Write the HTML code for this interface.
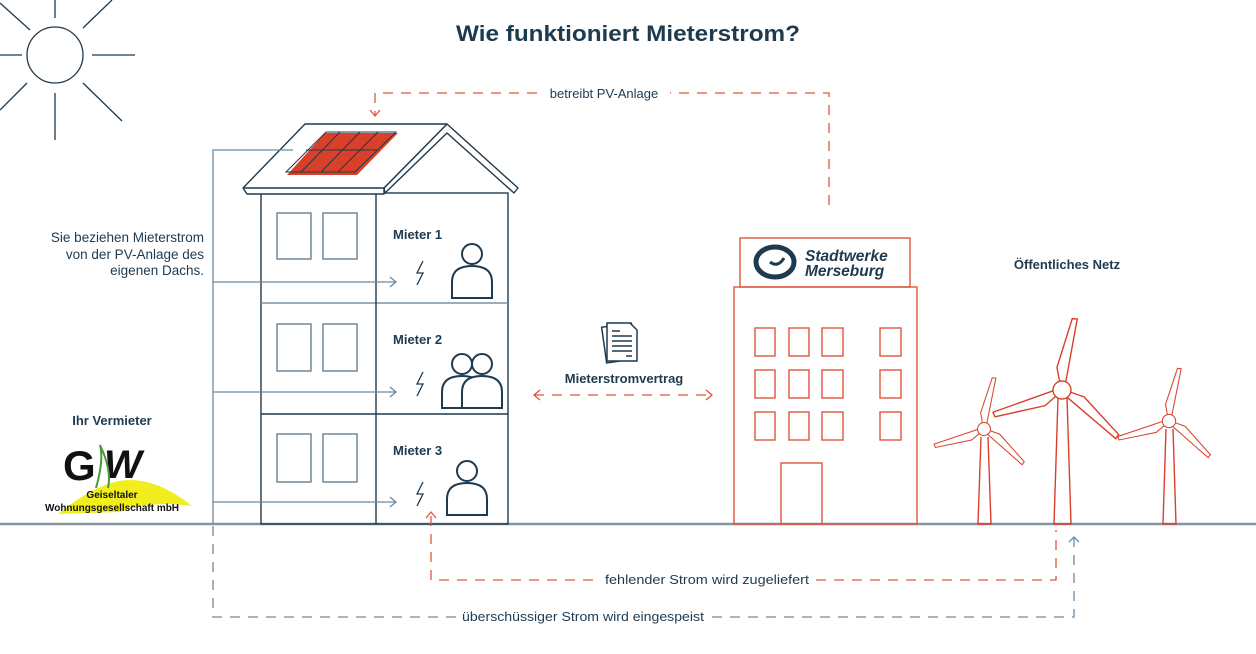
<!DOCTYPE html>
<html><head><meta charset="utf-8"><style>
html,body{margin:0;padding:0;background:#fff;}
svg{display:block;}
text{font-family:"Liberation Sans",sans-serif;}
</style></head><body>
<svg width="1256" height="654" viewBox="0 0 1256 654" xmlns="http://www.w3.org/2000/svg">
<defs>
<g id="person" fill="none" stroke="#1e3a4f" stroke-width="2">
<circle cx="0" cy="-34" r="10"/>
<path d="M-20,10 L-20,-6 Q-20,-22 0,-22 Q20,-22 20,-6 L20,10 Z"/>
</g>
<g id="personf" fill="#fff" stroke="#1e3a4f" stroke-width="2">
<circle cx="0" cy="-34" r="10"/>
<path d="M-20,10 L-20,-6 Q-20,-22 0,-22 Q20,-22 20,-6 L20,10 Z"/>
</g>
<path id="bolt" d="M3,-12 L-3,0 L3,0 L-3,12" fill="none" stroke="#1e3a4f" stroke-width="1.3"/>
<g id="blades" fill="#fff" stroke="#d9402a" stroke-width="1.4">
<path d="M-3,-8 L-7,-22 L4,-72 L9,-72 L3,-8"/>
<path d="M-3,-8 L-7,-22 L4,-72 L9,-72 L3,-8" transform="rotate(120)"/>
<path d="M-3,-8 L-7,-22 L4,-72 L9,-72 L3,-8" transform="rotate(240)"/>
<circle r="9"/>
</g>
</defs>

<!-- title -->
<text x="628" y="41" text-anchor="middle" font-size="22" font-weight="bold" fill="#1e3a4f" textLength="344" lengthAdjust="spacingAndGlyphs">Wie funktioniert Mieterstrom?</text>

<!-- sun -->
<g stroke="#1e3a4f" stroke-width="1.3" fill="none">
<circle cx="55" cy="55" r="28"/>
<line x1="55" y1="0" x2="55" y2="18"/><line x1="55" y1="93" x2="55" y2="140"/>
<line x1="0" y1="55" x2="22" y2="55"/><line x1="92" y1="55" x2="135" y2="55"/>
<line x1="83" y1="28" x2="112" y2="0"/><line x1="83" y1="83" x2="122" y2="121"/>
<line x1="27" y1="83" x2="0" y2="110"/><line x1="30" y1="30" x2="0" y2="3"/>
</g>

<!-- ground -->
<line x1="0" y1="524" x2="1256" y2="524" stroke="#8596a3" stroke-width="2.5"/>

<!-- left building -->
<g stroke="#1e3a4f" stroke-width="1.4" fill="none">
<rect x="261" y="193" width="247" height="331"/>
<line x1="261" y1="303" x2="508" y2="303" stroke="#7a8fa0"/>
<line x1="261" y1="414" x2="508" y2="414"/>
<line x1="376" y1="193" x2="376" y2="524"/>
</g>
<g stroke="#6a7f90" stroke-width="1.4" fill="none">
<rect x="277" y="213" width="34" height="46"/><rect x="323" y="213" width="34" height="46"/>
<rect x="277" y="324" width="34" height="47"/><rect x="323" y="324" width="34" height="47"/>
<rect x="277" y="434" width="34" height="48"/><rect x="323" y="434" width="34" height="48"/>
</g>
<!-- roof -->
<g stroke="#1e3a4f" stroke-width="1.4" fill="#fff" stroke-linejoin="round">
<polygon points="447,124 518,188 514,193 447,133 385,193 384,188"/>
<polygon points="243,188 305,124 447,124 384,188 384,194 247,194"/>
<line x1="243" y1="188" x2="384" y2="188"/>
</g>
<polygon points="325,133 398,133 357,175 287,175" fill="#d9402a"/>
<g stroke="#1e3a4f" stroke-width="1" fill="none">
<polygon points="326,132 396,132 355,172 286,172"/>
<line x1="306" y1="150" x2="377" y2="150"/>
<line x1="340" y1="132" x2="301" y2="172"/>
<line x1="360" y1="132" x2="321" y2="172"/>
<line x1="378" y1="132" x2="338" y2="172"/>
</g>

<!-- tenants -->
<text x="393" y="239" font-size="13" font-weight="bold" fill="#1e3a4f">Mieter 1</text>
<text x="393" y="344" font-size="13" font-weight="bold" fill="#1e3a4f">Mieter 2</text>
<text x="393" y="455" font-size="13" font-weight="bold" fill="#1e3a4f">Mieter 3</text>
<use href="#bolt" x="420" y="273"/><use href="#bolt" x="420" y="384"/><use href="#bolt" x="420" y="494"/>
<use href="#person" x="472" y="288"/>
<use href="#personf" x="462" y="398"/>
<use href="#personf" x="482" y="398"/>
<use href="#person" x="467" y="505"/>

<!-- blue supply lines -->
<g stroke="#6a8aa5" stroke-width="1.3" fill="none">
<polyline points="293,150 213,150 213,524"/>
<line x1="213" y1="282" x2="396" y2="282"/><polyline points="390,277 396,282 390,287"/>
<line x1="213" y1="392" x2="396" y2="392"/><polyline points="390,387 396,392 390,397"/>
<line x1="213" y1="502" x2="396" y2="502"/><polyline points="390,497 396,502 390,507"/>
<polyline points="213,526 213,617 456,617" stroke-dasharray="10,8"/>
<polyline points="712,617 1074,617 1074,537" stroke-dasharray="10,8"/>
<polyline points="1069,542 1074,537 1079,542"/>
</g>
<text x="583" y="621" text-anchor="middle" font-size="13" fill="#1e3a4f" textLength="242" lengthAdjust="spacingAndGlyphs">überschüssiger Strom wird eingespeist</text>

<!-- red lines -->
<g stroke="#e0553f" stroke-width="1.3" fill="none">
<polyline points="829,205 829,93 670,93" stroke-dasharray="10,8"/>
<polyline points="537,93 375,93 375,115" stroke-dasharray="10,8"/>
<polyline points="370,110 375,116 380,110"/>
<polyline points="431,516 431,580 598,580" stroke-dasharray="10,8"/>
<polyline points="816,580 1056,580 1056,530" stroke-dasharray="10,8"/>
<polyline points="426,518 431,512 436,518"/>
<line x1="534" y1="395" x2="711" y2="395" stroke-dasharray="10,8"/>
<polyline points="540,390 534,395 540,400"/><polyline points="706,390 712,395 706,400"/>
</g>
<text x="604" y="98" text-anchor="middle" font-size="13" fill="#1e3a4f">betreibt PV-Anlage</text>
<text x="707" y="584" text-anchor="middle" font-size="13" fill="#1e3a4f" textLength="204" lengthAdjust="spacingAndGlyphs">fehlender Strom wird zugeliefert</text>

<!-- contract -->
<g stroke="#1e3a4f" stroke-width="1.5" fill="#fff">
<rect x="604" y="325" width="30" height="36" transform="rotate(-8 619 343)"/>
<path d="M607,323 L630,323 L637,330 L637,361 L607,361 Z"/>
</g>
<g stroke="#1e3a4f" stroke-width="1.5">
<line x1="612" y1="331" x2="620" y2="331"/><line x1="612" y1="336" x2="632" y2="336"/>
<line x1="612" y1="341" x2="632" y2="341"/><line x1="612" y1="346" x2="632" y2="346"/>
<line x1="612" y1="351" x2="632" y2="351"/><line x1="626" y1="356" x2="632" y2="356"/>
</g>
<text x="624" y="383" text-anchor="middle" font-size="13" font-weight="bold" fill="#1e3a4f">Mieterstromvertrag</text>

<!-- left text -->
<g font-size="13.5" fill="#1e3a4f" text-anchor="end">
<text x="204" y="242">Sie beziehen Mieterstrom</text>
<text x="204" y="259">von der PV-Anlage des</text>
<text x="204" y="275">eigenen Dachs.</text>
</g>
<text x="112" y="425" text-anchor="middle" font-size="13" font-weight="bold" fill="#1e3a4f">Ihr Vermieter</text>
<!-- GWG logo -->
<path d="M58,514 Q100,480 130,480 Q160,480 192,506 Q150,500 120,512 Z" fill="#f2ee1e"/>
<text x="63" y="480" font-size="42" font-weight="bold" fill="#111">G</text>
<text x="104" y="478" font-size="40" font-weight="bold" fill="#111" font-style="italic">W</text>
<path d="M96,488 Q104,460 100,445 Q112,470 108,488" fill="none" stroke="#4a9a3a" stroke-width="2"/>
<text x="112" y="498" text-anchor="middle" font-size="10" font-weight="bold" fill="#111">Geiseltaler</text>
<text x="112" y="511" text-anchor="middle" font-size="10" font-weight="bold" fill="#111" textLength="134" lengthAdjust="spacingAndGlyphs">Wohnungsgesellschaft mbH</text>

<!-- office building -->
<g stroke="#e0553f" stroke-width="1.4" fill="none">
<rect x="740" y="238" width="170" height="49"/>
<rect x="734" y="287" width="183" height="237"/>
<rect x="755" y="328" width="20" height="28"/><rect x="789" y="328" width="20" height="28"/><rect x="822" y="328" width="21" height="28"/><rect x="880" y="328" width="21" height="28"/>
<rect x="755" y="370" width="20" height="28"/><rect x="789" y="370" width="20" height="28"/><rect x="822" y="370" width="21" height="28"/><rect x="880" y="370" width="21" height="28"/>
<rect x="755" y="412" width="20" height="28"/><rect x="789" y="412" width="20" height="28"/><rect x="822" y="412" width="21" height="28"/><rect x="880" y="412" width="21" height="28"/>
<rect x="781" y="463" width="41" height="61"/>
</g>
<g fill="none" stroke="#1e3a4f">
<ellipse cx="775" cy="262" rx="19" ry="15" stroke-width="5"/>
<path d="M770,262 Q778,268 784,258" stroke-width="3"/>
</g>
<g font-size="15.5" font-weight="bold" font-style="italic" fill="#1e3a4f">
<text x="805" y="261">Stadtwerke</text>
<text x="805" y="276">Merseburg</text>
</g>
<text x="1067" y="269" text-anchor="middle" font-size="13" font-weight="bold" fill="#1e3a4f">Öffentliches Netz</text>

<!-- turbines -->
<g stroke="#d9402a" stroke-width="1.4" fill="none">
<polyline points="981,437 978,524 991,524 988,437"/>
<polyline points="1058,398 1054,524 1071,524 1067,398"/>
<polyline points="1166,429 1163,524 1176,524 1173,429"/>
</g>
<use href="#blades" transform="translate(984,429) scale(0.72) rotate(6)"/>
<use href="#blades" transform="translate(1062,390) rotate(5)"/>
<use href="#blades" transform="translate(1169,421) scale(0.74) rotate(6)"/>
</svg>
</body></html>
